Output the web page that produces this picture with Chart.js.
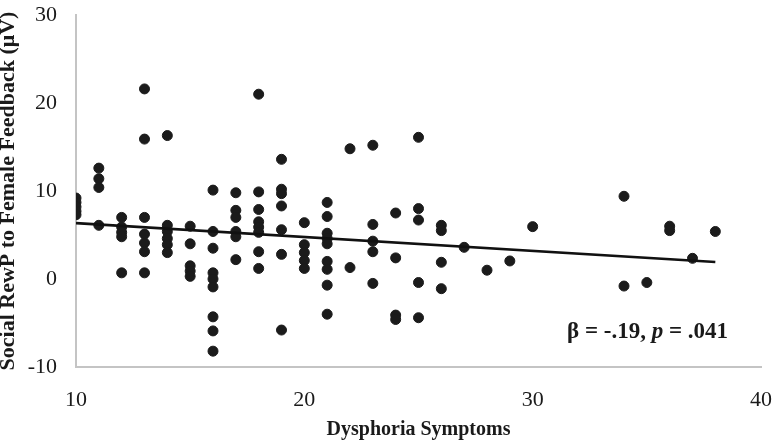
<!DOCTYPE html>
<html>
<head>
<meta charset="utf-8">
<script src="https://cdn.jsdelivr.net/npm/chart.js@4.4.1/dist/chart.umd.min.js"></script>
<style>
  html, body { margin: 0; padding: 0; background: #ffffff; }
  #wrap { position: relative; width: 773px; height: 442px; }
</style>
</head>
<body>
<div id="wrap"><canvas id="c" width="773" height="442"></canvas></div>
<script>
// Dysphoria symptom score (x) for each participant
const dysphoria = [
  10,10,10,10,10,
  11,11,11,11,
  12,12,12,12,12,
  13,13,13,13,13,13,13,
  14,14,14,14,14,14,
  15,15,15,15,15,
  16,16,16,16,16,16,16,16,16,
  17,17,17,17,17,17,
  18,18,18,18,18,18,18,18,
  19,19,19,19,19,19,19,
  20,20,20,20,20,
  21,21,21,21,21,21,21,21,21,
  22,22,
  23,23,23,23,23,
  24,24,24,24,
  25,25,25,25,25,
  26,26,26,26,
  27,28,29,30,
  34,34,35,36,36,37,38
];
// Social RewP to female feedback (µV) for each participant
const rewp = [
  9.2,8.7,8.2,7.7,7.3,
  12.6,11.4,10.4,6.1,
  7.0,5.9,5.3,4.8,0.7,
  21.6,15.9,7.0,5.1,4.1,3.1,0.7,
  16.3,6.1,5.4,4.6,3.9,3.0,
  6.0,4.0,1.5,0.9,0.3,
  10.1,5.4,3.5,0.7,0.0,-0.9,-4.3,-5.9,-8.2,
  9.8,7.8,7.0,5.4,4.8,2.2,
  21.0,9.9,7.9,6.5,5.9,5.3,3.1,1.2,
  13.6,10.2,9.7,8.3,5.6,2.8,-5.8,
  6.4,3.9,3.0,2.1,1.2,
  8.7,7.1,5.2,4.6,4.0,2.0,1.1,-0.7,-4.0,
  14.8,1.3,
  15.2,6.2,4.3,3.1,-0.5,
  7.5,2.4,-4.1,-4.6,
  16.1,8.0,6.7,-0.4,-4.4,
  6.1,5.5,1.9,-1.1,
  3.6,1.0,2.05,5.95,
  9.4,-0.8,-0.4,6.0,5.5,2.35,5.4
];
// Linear trend line endpoints
const trendX = [10, 38];
const trendY = [6.35, 1.94];
// Axis ticks
const xTicks = [10, 20, 30, 40];
const yTicks = [-10, 0, 10, 20, 30];
const xTitle = 'Dysphoria Symptoms';
const yTitle = 'Social RewP to Female Feedback (\u03bcV)';
const statBeta = '\u03b2 = -.19, ';
const statP = 'p';
const statPVal = ' = .041';

const scatterData = dysphoria.map((x, i) => ({ x: x, y: rewp[i] }));
const trendData = trendX.map((x, i) => ({ x: x, y: trendY[i] }));

const FONT = "'Liberation Serif', 'Times New Roman', serif";

const annotationPlugin = {
  id: 'stat',
  afterDatasetsDraw(chart) {
    const ctx = chart.ctx;
    const a = chart.chartArea;
    ctx.save();
    ctx.fillStyle = '#1a1a1a';
    ctx.textBaseline = 'middle';
    const y = a.bottom - 35;
    const fBold = "bold 23px " + FONT;
    const fItal = "italic bold 23px " + FONT;
    ctx.font = fBold;
    const w1 = ctx.measureText(statBeta).width;
    const w3 = ctx.measureText(statPVal).width;
    ctx.font = fItal;
    const w2 = ctx.measureText(statP).width;
    let x = 728 - (w1 + w2 + w3);
    ctx.textAlign = 'left';
    ctx.font = fBold; ctx.fillText(statBeta, x, y); x += w1;
    ctx.font = fItal; ctx.fillText(statP, x, y); x += w2;
    ctx.font = fBold; ctx.fillText(statPVal, x, y);
    ctx.restore();
  }
};

new Chart(document.getElementById('c'), {
  type: 'scatter',
  data: {
    datasets: [
      {
        type: 'line',
        data: trendData,
        borderColor: '#111111',
        borderWidth: 2.6,
        pointRadius: 0,
        fill: false,
        order: 0
      },
      {
        data: scatterData,
        backgroundColor: '#1b1b1b',
        borderColor: '#1b1b1b',
        pointRadius: 5,
        pointHoverRadius: 5,
        order: 1
      }
    ]
  },
  plugins: [annotationPlugin],
  options: {
    responsive: false,
    animation: false,
    layout: { padding: { top: 15, right: 12, left: 0, bottom: 0 } },
    plugins: { legend: { display: false }, tooltip: { enabled: false } },
    scales: {
      x: {
        type: 'linear',
        min: 10, max: 40,
        afterBuildTicks: (s) => { s.ticks = xTicks.map(v => ({ value: v })); },
        afterFit: (s) => { s.height = 75; s.paddingLeft = 0; s.paddingRight = 0; },
        grid: { display: false, drawTicks: false },
        border: { display: true, color: '#c4c4c4', width: 2 },
        ticks: { color: '#1a1a1a', font: { family: FONT, size: 22 }, padding: 20, maxRotation: 0 },
        title: { display: true, text: xTitle, color: '#1a1a1a', font: { family: FONT, size: 20, weight: 'bold', lineHeight: 1.2 }, padding: { top: 4, bottom: 0 } }
      },
      y: {
        type: 'linear',
        min: -10, max: 30,
        afterBuildTicks: (s) => { s.ticks = yTicks.map(v => ({ value: v })); },
        afterFit: (s) => { s.width = 76; s.paddingTop = 0; s.paddingBottom = 0; },
        grid: { display: false, drawTicks: false },
        border: { display: true, color: '#c4c4c4', width: 2 },
        ticks: { color: '#1a1a1a', font: { family: FONT, size: 22 }, padding: 19 },
        title: { display: true, text: yTitle, color: '#1a1a1a', font: { family: FONT, size: 22, weight: 'bold', lineHeight: 0.75 }, padding: { top: 0, bottom: 0 } }
      }
    }
  }
});
</script>
</body>
</html>
